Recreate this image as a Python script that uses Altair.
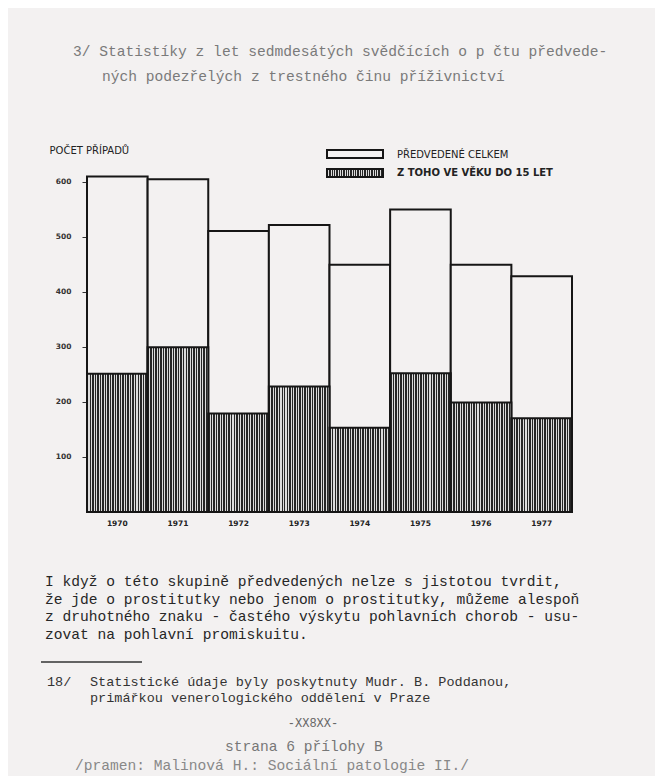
import altair as alt
import pandas as pd

# ---- data ----
years = ["1970", "1971", "1972", "1973", "1974", "1975", "1976", "1977"]
total_brought = [609, 604, 510, 521, 449, 549, 449, 428]
under_15 = [251, 299, 179, 228, 153, 252, 199, 170]
y_ticks = [100, 200, 300, 400, 500, 600]

y_title = "POČET PŘÍPADŮ"
legend_labels = ["PŘEDVEDENÉ CELKEM", "Z TOHO VE VĚKU DO 15 LET"]

title_lines = [
    "3/ Statistíky z let sedmdesátých svědčících o p čtu předvede-",
    "ných podezřelých z trestného činu příživnictví",
]
paragraph_lines = [
    "I když o této skupině předvedených nelze s jistotou tvrdit,",
    "že jde o prostitutky nebo jenom o prostitutky, můžeme alespoň",
    "z druhotného znaku - častého výskytu pohlavních chorob - usu-",
    "zovat na pohlavní promiskuitu.",
]
footnote_num = "18/"
footnote_lines = [
    "Statistické údaje byly poskytnuty Mudr. B. Poddanou,",
    "primářkou venerologického oddělení v Praze",
]
mark_line = "-XX8XX-"
page_line = "strana 6 přílohy B"
source_line = "/pramen: Malinová H.: Sociální patologie II./"

df = pd.DataFrame({"year": years, "total": total_brought, "u15": under_15})

PAPER = "#f3f1f1"
INK = "#161616"
MONO = "Liberation Mono"
SANS = "DejaVu Sans"

# vertical stripe pattern built as a hard-stop linear gradient
N_STRIPES = 24
DARK = "#262626"
LIGHT = "#dcdcdc"
stops = []
for i in range(N_STRIPES):
    a = round(i / N_STRIPES, 5)
    b = round((i + 0.58) / N_STRIPES, 5)
    c = round((i + 1) / N_STRIPES, 5)
    stops += [
        alt.GradientStop(offset=a, color=DARK),
        alt.GradientStop(offset=b, color=DARK),
        alt.GradientStop(offset=b, color=LIGHT),
        alt.GradientStop(offset=c, color=LIGHT),
    ]
stripes = alt.LinearGradient(gradient="linear", stops=stops, x1=0, x2=1, y1=0, y2=0)

x_enc = alt.X(
    "year:N",
    sort=years,
    scale=alt.Scale(paddingInner=0, paddingOuter=0),
    axis=alt.Axis(
        title=None, labelAngle=0, ticks=False, domain=False, labelPadding=7,
        labelFont=SANS, labelFontSize=7.5, labelFontWeight="bold", labelColor="#222",
    ),
)
y_axis = alt.Axis(
    values=y_ticks, title=y_title, titleAngle=0, titleX=-38, titleY=-26,
    titleAlign="left", titleBaseline="middle", titleFont=SANS, titleFontSize=10,
    titleFontWeight="normal", titleColor="#222",
    grid=False, domain=False, tickSize=5, tickColor="#333", tickWidth=1,
    labelPadding=11, labelFont=SANS, labelFontSize=7.5, labelFontWeight="bold",
    labelColor="#333",
)
y_scale = alt.Scale(domain=[0, 610], nice=False, zero=True)

bars_total = alt.Chart(df).mark_bar(fill=PAPER, stroke=INK, strokeWidth=2).encode(
    x=x_enc,
    y=alt.Y("total:Q", scale=y_scale, axis=y_axis, stack=None),
)
bars_u15 = alt.Chart(df).mark_bar(fill=stripes, stroke=INK, strokeWidth=2).encode(
    x=x_enc,
    y=alt.Y("u15:Q", scale=y_scale, axis=y_axis, stack=None),
)


def one_row(label):
    return pd.DataFrame({"t": [label]})


def text_layer(line, x, y, size, color, font=MONO, align="left", weight="normal"):
    return alt.Chart(one_row(line)).mark_text(
        align=align, baseline="middle", font=font, fontSize=size, color=color,
        fontWeight=weight,
    ).encode(text="t:N", x=alt.value(x), y=alt.value(y))


# legend
leg_box1 = alt.Chart(one_row(legend_labels[0])).mark_rect(
    fill=PAPER, stroke=INK, strokeWidth=2
).encode(x=alt.value(240), x2=alt.value(296), y=alt.value(-26), y2=alt.value(-18))
leg_box2 = alt.Chart(one_row(legend_labels[1])).mark_rect(
    fill=stripes, stroke=INK, strokeWidth=2
).encode(x=alt.value(240), x2=alt.value(296), y=alt.value(-7), y2=alt.value(1))
leg_t1 = text_layer(legend_labels[0], 310, -21, 10, "#222", font=SANS)
leg_t2 = text_layer(legend_labels[1], 310, -3, 10, "#222", font=SANS, weight="bold")

layers = [bars_total, bars_u15, leg_box1, leg_box2, leg_t1, leg_t2]

# document text around the chart
layers.append(text_layer(title_lines[0], -14, -124, 14.6, "#7a7a7a"))
layers.append(text_layer(title_lines[1], 15, -99, 14.6, "#7a7a7a"))
for i, line in enumerate(paragraph_lines):
    layers.append(text_layer(line, -42, 406 + i * 17.5, 14.6, "#262626"))

rule = alt.Chart(one_row("rule")).mark_rule(color="#333", strokeWidth=1.5).encode(
    x=alt.value(-46), x2=alt.value(55), y=alt.value(486)
)
layers.append(rule)
layers.append(text_layer(footnote_num, -40, 506, 13.5, "#333"))
layers.append(text_layer(footnote_lines[0], 3, 506, 13.5, "#333"))
layers.append(text_layer(footnote_lines[1], 3, 522, 13.5, "#333"))
layers.append(text_layer(mark_line, 226, 547, 12, "#666", align="center"))
layers.append(text_layer(page_line, 138, 571, 14.6, "#777"))
layers.append(text_layer(source_line, -12, 590, 14.6, "#888"))

chart = alt.layer(*layers).properties(
    width=485,
    height=336,
    autosize=alt.AutoSizeParams(type="none"),
    padding={"left": 79, "top": 168, "right": 83, "bottom": 264},
    background=PAPER,
).configure_view(stroke=None)

chart.save("out.html", embed_options={"renderer": "svg", "actions": False})
